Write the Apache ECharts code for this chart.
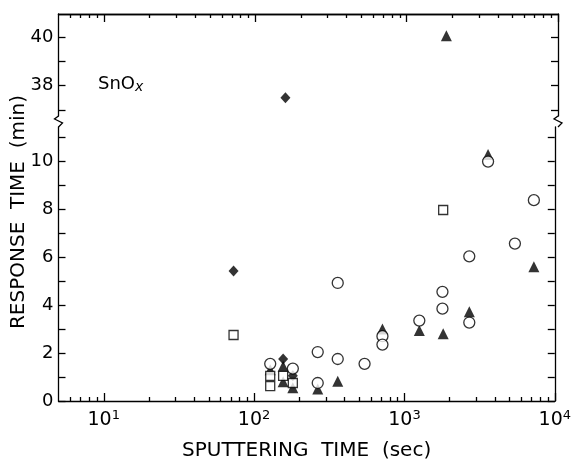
<!DOCTYPE html>
<html><head><meta charset="utf-8">
<script src="https://cdn.jsdelivr.net/npm/echarts@6/dist/echarts.min.js"></script>
<style>html,body{margin:0;padding:0;background:#fff}#c{width:574px;height:466px}</style>
</head><body><div id="c"></div>
<script>
// ---- data (sputtering time in sec, response time in min) ----
const circleX   = [128, 181, 265, 265, 360, 360, 543, 714, 714, 1256, 1790, 1790, 2700, 2700, 3600, 5430, 7260];
const circleY   = [1.55, 1.35, 2.04, 0.75, 4.92, 1.75, 1.55, 2.7, 2.35, 3.35, 4.55, 3.85, 6.03, 3.27, 9.98, 6.56, 8.37];
const squareX   = [73, 128, 128, 156, 181, 1810];
const squareY   = [2.75, 1.05, 0.62, 1.05, 0.75, 7.96];
const triangleX = [128, 156, 156, 181, 265, 360, 714, 1256, 1810, 1830, 2700, 3600, 7260];
const triangleY = [1.3, 1.45, 0.8, 0.55, 0.5, 0.82, 3.0, 2.94, 2.8, 40.05, 3.72, 10.27, 5.6];
const diamondX  = [73, 156, 181, 158];
const diamondY  = [5.42, 1.75, 1.05, 37.5];
const xMajorTicks = [10, 100, 1000, 10000];
const xMinorTicks = [6,7,8,9, 20,30,40,50,60,70,80,90, 200,300,400,500,600,700,800,900, 2000,3000,4000,5000,6000,7000,8000,9000];
const yLowTicks = [0,1,2,3,4,5,6,7,8,9,10,11];
const yLowLabels = [0,2,4,6,8,10];
const yHighTicks = [37,38,39,40];
const yHighLabels = [38,40];
const xTitle = 'SPUTTERING  TIME  (sec)';
const yTitle = 'RESPONSE  TIME  (min)';
const panelLabel = ['SnO', 'x'];
const BREAK = 20; // values above are on the upper (broken) segment

// ---- layout ----
const L = 58.5, R = 558, T = 14, B = 404.5, BT = 116, BB = 127;

function pts(xs, ys, upper) {
  const out = [];
  xs.forEach((x, i) => { if ((ys[i] > BREAK) === upper) out.push([x, ys[i]]); });
  return out;
}
const FONT = '"DejaVu Sans", sans-serif';
const lineStyle = {color: '#000', width: 1.3};

function xAxisDef(grid, pos, ticks, len, labels) {
  return {
    type: 'log', logBase: 10, gridIndex: grid, position: pos, min: 5, max: 10000,
    axisLine: {show: !!labels || pos === 'top', onZero: false, lineStyle},
    axisTick: {show: true, inside: true, length: len, customValues: ticks, lineStyle},
    axisLabel: labels ? {
      show: true, customValues: xMajorTicks, margin: 8, color: '#000',
      formatter: v => '{b|10}{s|' + Math.round(Math.log10(v)) + '}',
      rich: {b: {fontSize: 19, fontFamily: FONT, color: '#000'},
             s: {fontSize: 13, fontFamily: FONT, color: '#000', padding: [0, 0, 9, 0]}}
    } : {show: false},
    splitLine: {show: false}, minorTick: {show: false}
  };
}
function yAxisDef(grid, pos, min, max, ticks, labels) {
  return {
    type: 'value', gridIndex: grid, position: pos, min, max,
    axisLine: {show: true, onZero: false, lineStyle},
    axisTick: {show: true, inside: true, length: 7, customValues: ticks, lineStyle},
    axisLabel: labels ? {show: true, customValues: labels, margin: 5, color: '#000',
      fontSize: 18, fontFamily: FONT} : {show: false},
    splitLine: {show: false}
  };
}

const chart = echarts.init(document.getElementById('c'), null, {renderer: 'canvas'});
const openStyle = {color: '#fff', borderColor: '#000', borderWidth: 1.3};
const filled = {color: '#000'};

function zig(x) {
  return {type: 'polyline', silent: true,
    shape: {points: [[x, BT], [x - 4, BT + 3], [x + 4, BB - 4], [x, BB]]},
    style: {stroke: '#000', lineWidth: 1.3, fill: null}};
}

chart.setOption({
  animation: false,
  backgroundColor: '#fff',
  grid: [
    {left: L, width: R - L, top: T, height: BT - T},
    {left: L, width: R - L, top: BB, height: B - BB}
  ],
  xAxis: [
    xAxisDef(0, 'top', xMajorTicks, 8, false),
    xAxisDef(0, 'top', xMinorTicks, 4, false),
    Object.assign(xAxisDef(1, 'bottom', xMajorTicks, 8, true), {
      name: xTitle, nameLocation: 'middle', nameGap: 40,
      nameTextStyle: {fontSize: 20, fontFamily: FONT, color: '#000'}
    }),
    xAxisDef(1, 'bottom', xMinorTicks, 4, false)
  ],
  yAxis: [
    yAxisDef(0, 'left', 36.75, 40.95, yHighTicks, yHighLabels),
    yAxisDef(0, 'right', 36.75, 40.95, yHighTicks, null),
    yAxisDef(1, 'left', 0, 11.42, yLowTicks, yLowLabels),
    yAxisDef(1, 'right', 0, 11.42, yLowTicks, null)
  ],
  series: [
    {type: 'scatter', xAxisIndex: 2, yAxisIndex: 2, symbol: 'triangle', symbolSize: 11, itemStyle: filled, data: pts(triangleX, triangleY, false)},
    {type: 'scatter', xAxisIndex: 2, yAxisIndex: 2, symbol: 'diamond', symbolSize: [10, 11], itemStyle: filled, data: pts(diamondX, diamondY, false)},
    {type: 'scatter', xAxisIndex: 2, yAxisIndex: 2, symbol: 'circle', symbolSize: 11, itemStyle: openStyle, data: pts(circleX, circleY, false)},
    {type: 'scatter', xAxisIndex: 2, yAxisIndex: 2, symbol: 'rect', symbolSize: 9, itemStyle: openStyle, data: pts(squareX, squareY, false)},
    {type: 'scatter', xAxisIndex: 0, yAxisIndex: 0, symbol: 'triangle', symbolSize: 11, itemStyle: filled, data: pts(triangleX, triangleY, true)},
    {type: 'scatter', xAxisIndex: 0, yAxisIndex: 0, symbol: 'diamond', symbolSize: [10, 11], itemStyle: filled, data: pts(diamondX, diamondY, true)}
  ],
  graphic: [
    zig(L), zig(R),
    {type: 'text', left: 98, top: 75, silent: true,
     style: {text: '{a|' + panelLabel[0] + '}{b|' + panelLabel[1] + '}', rich: {
       a: {fontSize: 18, fontFamily: FONT, fill: '#000'},
       b: {fontSize: 14, fontFamily: FONT, fontStyle: 'italic', fill: '#000', padding: [6, 0, 0, 0]}}}},
    {type: 'text', x: 19, y: 212, rotation: Math.PI / 2, silent: true,
     style: {text: yTitle, fontSize: 20, fontFamily: FONT, fill: '#000',
       align: 'center', verticalAlign: 'middle'}}
  ]
});
</script>
</body></html>
